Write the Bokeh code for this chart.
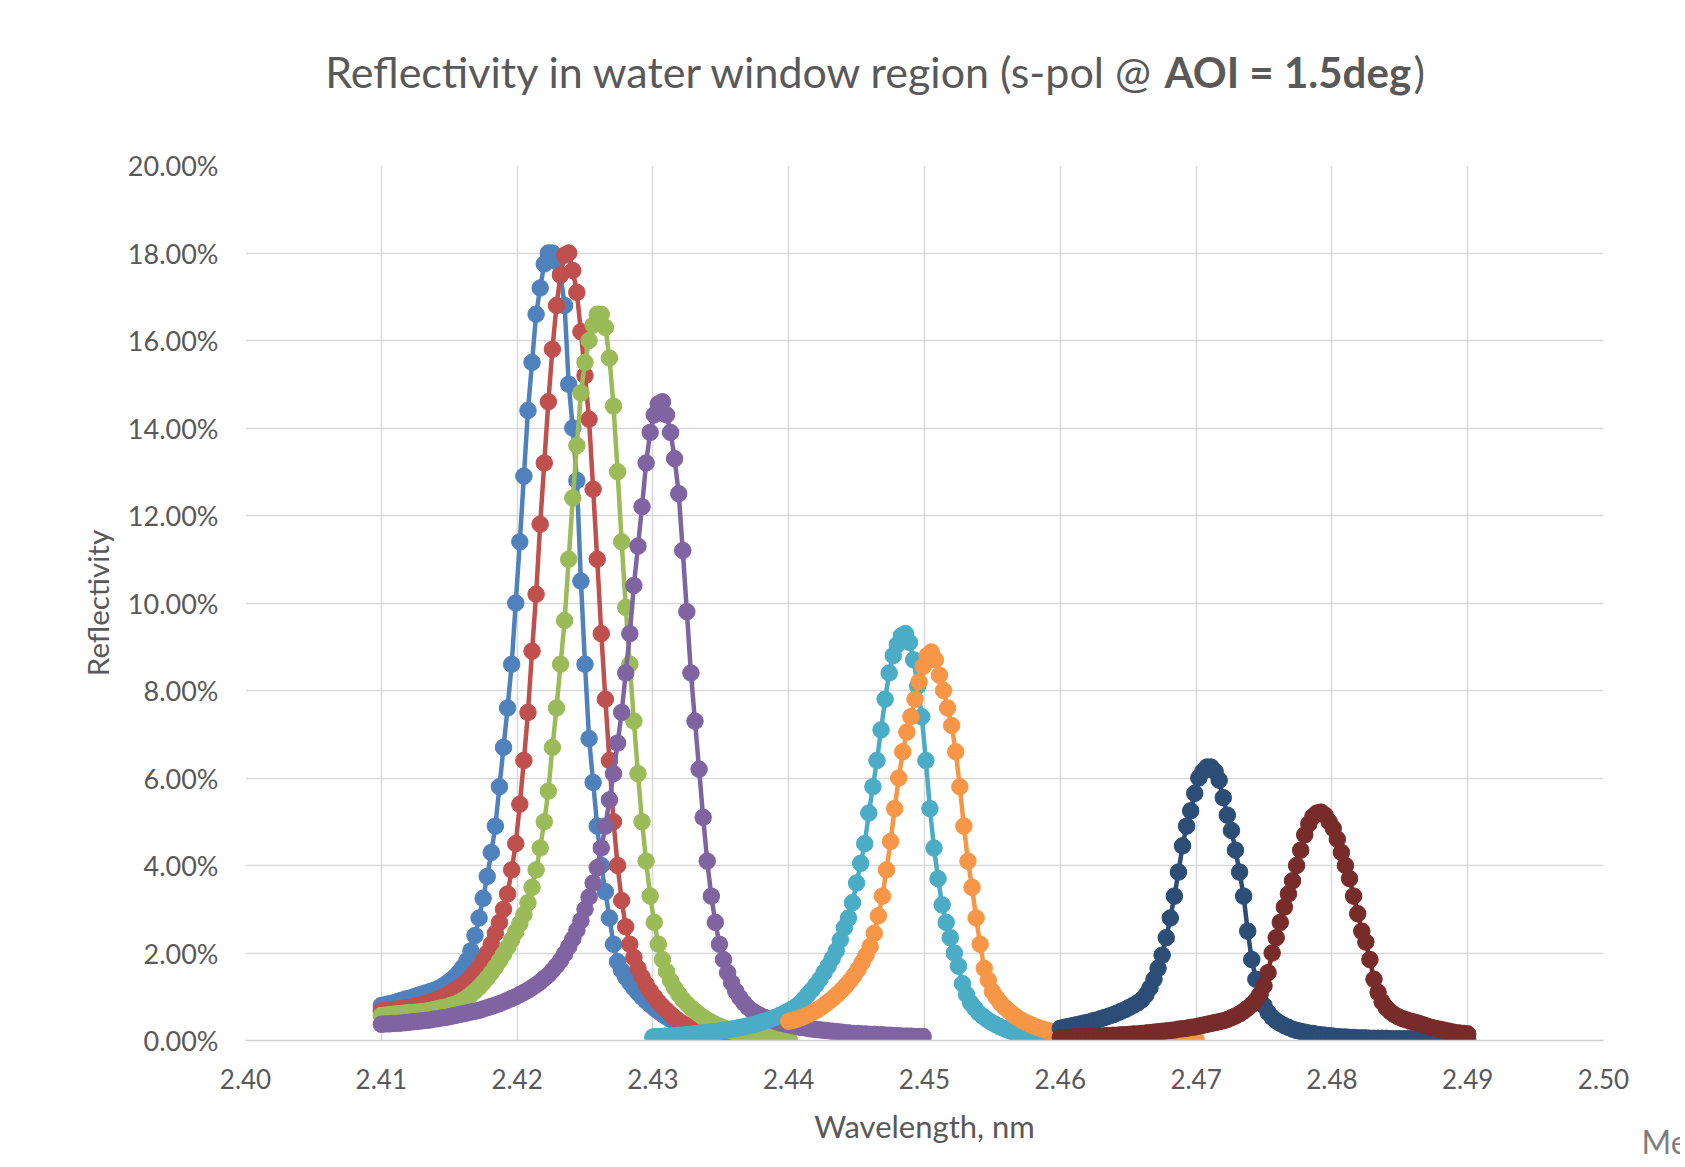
import numpy as np
from bokeh.plotting import figure
from bokeh.layouts import row, column
from bokeh.models import Range1d, FixedTicker, NumeralTickFormatter, Label
from bokeh.embed import file_html
from bokeh.resources import INLINE

# ---------------- data (reflectivity in %, sampled every 0.0003 nm) ----------------
STEP = 0.0003

blue_start = 2.41
blue = [0.80, 0.82, 0.84, 0.86, 0.89, 0.92, 0.95, 0.97, 1.00, 1.03,
        1.06, 1.09, 1.12, 1.15, 1.19, 1.24, 1.30, 1.37, 1.45, 1.55,
        1.67, 1.82, 2.05, 2.40, 2.80, 3.25, 3.75, 4.30, 4.90, 5.80,
        6.70, 7.60, 8.60, 10.0, 11.4, 12.9, 14.4, 15.5, 16.6, 17.2,
        17.75, 18.0, 18.0, 17.8, 17.5, 16.8, 15.0, 14.0, 12.8, 10.5,
        8.6, 6.9, 5.9, 4.9, 4.0, 3.4, 2.8, 2.2, 1.8, 1.60,
        1.45, 1.32, 1.20, 1.09, 0.99, 0.90, 0.82, 0.74, 0.67, 0.60,
        0.54, 0.48, 0.43, 0.38, 0.34, 0.30, 0.27, 0.24, 0.21, 0.19,
        0.17, 0.15, 0.14, 0.12, 0.11, 0.10, 0.10, 0.09, 0.09, 0.08,
        0.07, 0.07, 0.06, 0.06, 0.05, 0.05, 0.05, 0.04, 0.04, 0.04,
        0.03]

red_start = 2.41
red = [0.68, 0.69, 0.70, 0.71, 0.72, 0.73, 0.75, 0.76, 0.78, 0.80,
       0.82, 0.85, 0.88, 0.91, 0.95, 0.99, 1.04, 1.09, 1.15, 1.21,
       1.28, 1.36, 1.45, 1.56, 1.68, 1.82, 2.00, 2.20, 2.45, 2.70,
       3.00, 3.35, 3.90, 4.50, 5.40, 6.40, 7.50, 8.90, 10.2, 11.8,
       13.2, 14.6, 15.8, 16.8, 17.5, 17.95, 18.0, 17.6, 17.1, 16.2,
       15.2, 14.2, 12.6, 11.0, 9.3, 7.8, 6.4, 5.0, 4.0, 3.2,
       2.6, 2.2, 1.9, 1.65, 1.45, 1.28, 1.13, 1.00, 0.88, 0.78,
       0.69, 0.60, 0.52, 0.45, 0.39, 0.34, 0.30, 0.26, 0.23, 0.20,
       0.18, 0.16, 0.14, 0.12, 0.11, 0.10, 0.09, 0.08, 0.08, 0.07,
       0.07, 0.06, 0.06, 0.05, 0.05, 0.05, 0.04, 0.04, 0.04, 0.03,
       0.03]

green_start = 2.41
green = [0.57, 0.58, 0.59, 0.60, 0.61, 0.62, 0.63, 0.64, 0.64, 0.65,
         0.66, 0.67, 0.69, 0.71, 0.73, 0.75, 0.77, 0.80, 0.83, 0.87,
         0.92, 0.98, 1.05, 1.13, 1.22, 1.32, 1.43, 1.55, 1.68, 1.82,
         1.97, 2.13, 2.30, 2.48, 2.67, 2.88, 3.15, 3.50, 3.90, 4.40,
         5.00, 5.70, 6.70, 7.60, 8.60, 9.60, 11.0, 12.4, 13.6, 14.8,
         15.5, 16.0, 16.35, 16.6, 16.6, 16.3, 15.6, 14.5, 13.0, 11.4,
         9.9, 8.6, 7.3, 6.1, 5.0, 4.1, 3.3, 2.7, 2.2, 1.85,
         1.58, 1.37, 1.20, 1.06, 0.94, 0.84, 0.75, 0.67, 0.60, 0.53,
         0.47, 0.42, 0.37, 0.33, 0.29, 0.25, 0.22, 0.19, 0.17, 0.15,
         0.13, 0.12, 0.10, 0.09, 0.08, 0.07, 0.07, 0.06, 0.06, 0.05,
         0.05]

purple_start = 2.41
purple = [0.37, 0.38, 0.38, 0.39, 0.39, 0.40, 0.41, 0.42, 0.43, 0.44,
          0.45, 0.46, 0.47, 0.49, 0.50, 0.52, 0.53, 0.55, 0.57, 0.59,
          0.61, 0.63, 0.65, 0.67, 0.69, 0.72, 0.75, 0.78, 0.81, 0.84,
          0.88, 0.92, 0.96, 1.00, 1.05, 1.10, 1.15, 1.21, 1.27, 1.34,
          1.42, 1.50, 1.60, 1.71, 1.83, 1.98, 2.14, 2.32, 2.52, 2.74,
          3.00, 3.28, 3.60, 3.95, 4.40, 4.90, 5.50, 6.10, 6.80, 7.50,
          8.40, 9.30, 10.4, 11.3, 12.2, 13.2, 13.9, 14.3, 14.55, 14.6,
          14.3, 13.9, 13.3, 12.5, 11.2, 9.8, 8.4, 7.3, 6.2, 5.1,
          4.1, 3.3, 2.7, 2.2, 1.85, 1.55, 1.32, 1.13, 0.98, 0.86,
          0.76, 0.68, 0.62, 0.57, 0.53, 0.49, 0.46, 0.43, 0.40, 0.38,
          0.36, 0.34, 0.32, 0.30, 0.29, 0.27, 0.26, 0.25, 0.24, 0.23,
          0.22, 0.21, 0.20, 0.19, 0.18, 0.17, 0.16, 0.16, 0.15, 0.15,
          0.14, 0.14, 0.13, 0.13, 0.12, 0.12, 0.11, 0.11, 0.10, 0.10,
          0.10, 0.09, 0.09, 0.09]

cyan_start = 2.43
cyan = [0.08, 0.09, 0.09, 0.10, 0.10, 0.11, 0.12, 0.12, 0.13, 0.14,
        0.15, 0.16, 0.17, 0.18, 0.19, 0.20, 0.21, 0.23, 0.24, 0.26,
        0.27, 0.29, 0.31, 0.33, 0.35, 0.37, 0.40, 0.43, 0.46, 0.49,
        0.53, 0.57, 0.61, 0.66, 0.71, 0.77, 0.84, 0.94, 1.05, 1.15,
        1.27, 1.40, 1.55, 1.70, 1.87, 2.05, 2.30, 2.58, 2.80, 3.15,
        3.60, 4.05, 4.50, 5.20, 5.80, 6.40, 7.10, 7.80, 8.40, 8.80,
        9.05, 9.25, 9.30, 9.10, 8.70, 8.10, 7.40, 6.40, 5.30, 4.40,
        3.70, 3.10, 2.70, 2.35, 2.00, 1.70, 1.30, 1.05, 0.86, 0.74,
        0.63, 0.55, 0.48, 0.42, 0.37, 0.32, 0.28, 0.24, 0.21, 0.18,
        0.16, 0.14, 0.12, 0.11, 0.10, 0.09, 0.08, 0.07, 0.07, 0.06,
        0.06]

orange_start = 2.44
orange = [0.44, 0.46, 0.49, 0.52, 0.56, 0.60, 0.65, 0.70, 0.76, 0.83,
          0.90, 0.98, 1.06, 1.15, 1.25, 1.36, 1.48, 1.62, 1.78, 1.95,
          2.15, 2.45, 2.85, 3.30, 3.90, 4.55, 5.30, 6.00, 6.60, 7.05,
          7.40, 7.80, 8.20, 8.55, 8.80, 8.88, 8.70, 8.35, 8.00, 7.60,
          7.20, 6.60, 5.80, 4.90, 4.10, 3.50, 2.80, 2.20, 1.65, 1.38,
          1.12, 0.98, 0.86, 0.76, 0.68, 0.60, 0.53, 0.47, 0.42, 0.38,
          0.34, 0.30, 0.27, 0.24, 0.22, 0.20, 0.18, 0.16, 0.15, 0.13,
          0.12, 0.11, 0.10, 0.09, 0.08, 0.08, 0.07, 0.07, 0.06, 0.06,
          0.05, 0.05, 0.05, 0.04, 0.04, 0.04, 0.04, 0.04, 0.03, 0.03,
          0.03, 0.03, 0.03, 0.03, 0.03, 0.02, 0.02, 0.02, 0.02, 0.02,
          0.02]

navy_start = 2.46
navy = [0.28, 0.30, 0.32, 0.34, 0.36, 0.38, 0.40, 0.42, 0.45, 0.47,
        0.50, 0.53, 0.56, 0.59, 0.63, 0.67, 0.71, 0.76, 0.81, 0.86,
        0.93, 1.04, 1.20, 1.40, 1.65, 1.95, 2.35, 2.80, 3.30, 3.85,
        4.45, 4.90, 5.25, 5.65, 6.00, 6.15, 6.25, 6.25, 6.15, 5.95,
        5.55, 5.15, 4.80, 4.35, 3.85, 3.30, 2.50, 1.85, 1.40, 1.05,
        0.80, 0.64, 0.53, 0.45, 0.39, 0.34, 0.30, 0.26, 0.23, 0.21,
        0.19, 0.17, 0.16, 0.14, 0.13, 0.12, 0.11, 0.10, 0.09, 0.08,
        0.08, 0.07, 0.07, 0.06, 0.06, 0.06, 0.05, 0.05, 0.05, 0.05,
        0.05, 0.04, 0.04, 0.04, 0.04, 0.04, 0.04, 0.04, 0.04, 0.04,
        0.03, 0.03, 0.03, 0.03, 0.03, 0.03, 0.03, 0.03, 0.03, 0.03,
        0.03]

maroon_start = 2.46
maroon = [0.07, 0.07, 0.07, 0.08, 0.08, 0.08, 0.09, 0.09, 0.09, 0.10,
          0.10, 0.11, 0.11, 0.12, 0.12, 0.13, 0.13, 0.14, 0.15, 0.15,
          0.16, 0.17, 0.18, 0.19, 0.20, 0.21, 0.22, 0.23, 0.24, 0.26,
          0.27, 0.28, 0.30, 0.31, 0.33, 0.35, 0.37, 0.39, 0.41, 0.43,
          0.45, 0.48, 0.52, 0.56, 0.61, 0.67, 0.74, 0.82, 0.92, 1.05,
          1.25, 1.55, 2.00, 2.35, 2.70, 3.05, 3.35, 3.65, 4.00, 4.35,
          4.70, 4.95, 5.12, 5.20, 5.22, 5.15, 5.00, 4.85, 4.60, 4.30,
          4.00, 3.70, 3.30, 2.90, 2.50, 2.25, 1.85, 1.40, 1.10, 0.88,
          0.75, 0.66, 0.59, 0.54, 0.50, 0.47, 0.44, 0.42, 0.39, 0.36,
          0.33, 0.30, 0.28, 0.26, 0.24, 0.22, 0.20, 0.18, 0.17, 0.16,
          0.15]

SERIES = [
    (blue_start, blue, "#4F81BD"),
    (red_start, red, "#C0504D"),
    (green_start, green, "#9BBB59"),
    (purple_start, purple, "#8064A2"),
    (cyan_start, cyan, "#4BACC6"),
    (orange_start, orange, "#F79646"),
    (navy_start, navy, "#2C4D75"),
    (maroon_start, maroon, "#772C2A"),
]

X_TICKS = [2.40, 2.41, 2.42, 2.43, 2.44, 2.45, 2.46, 2.47, 2.48, 2.49, 2.50]
Y_TICKS = [0.0, 0.02, 0.04, 0.06, 0.08, 0.10, 0.12, 0.14, 0.16, 0.18, 0.20]

TITLE_MAIN = "Reflectivity in water window region (s-pol @"
TITLE_BOLD = "AOI = 1.5deg"
TITLE_END = ")"
CORNER_TEXT = "Me"

# ---------------- geometry ----------------
MAIN_W = 1630
SIDE_W = 50
TITLE_H = 135
MAIN_H = 1025
TOTAL_H = TITLE_H + MAIN_H
LEFT_B, RIGHT_B = 245, 27
BASE_SHIFT = 14   # baseline correction for Label text

GRID = "#d9d9d9"
TXT = "#595959"
FONT = "Lato"


def blank(width, height, xr, yr, left=0, right=0):
    f = figure(width=width, height=height, output_backend="svg",
               toolbar_location=None, x_range=xr, y_range=yr,
               x_axis_location=None, y_axis_location=None,
               min_border_left=left, min_border_right=right,
               min_border_top=0, min_border_bottom=0)
    f.grid.visible = False
    f.outline_line_color = None
    f.background_fill_color = "white"
    f.border_fill_color = "white"
    return f


def nm(px):
    # horizontal canvas pixel -> wavelength in the shared x scale
    return 2.40 + (px - LEFT_B) * 0.10 / (MAIN_W - LEFT_B - RIGHT_B)


# ---------------- title strip ----------------
tf = blank(MAIN_W, TITLE_H, Range1d(2.40, 2.50), Range1d(0, TITLE_H),
           LEFT_B, RIGHT_B)
ty = TITLE_H - 85 + BASE_SHIFT
tf.add_layout(Label(x=nm(1155), y=ty, text=TITLE_MAIN, text_align="right",
                    text_baseline="alphabetic", text_font=FONT,
                    text_font_size="43px", text_color=TXT))
tf.add_layout(Label(x=nm(1164), y=ty, text=TITLE_BOLD, text_align="left",
                    text_baseline="alphabetic", text_font=FONT,
                    text_font_size="42px", text_font_style="bold",
                    text_color=TXT))
tf.add_layout(Label(x=nm(1413), y=ty, text=TITLE_END, text_align="left",
                    text_baseline="alphabetic", text_font=FONT,
                    text_font_size="43px", text_color=TXT))

# ---------------- main chart ----------------
p = figure(width=MAIN_W, height=MAIN_H, output_backend="svg",
           toolbar_location=None,
           x_range=Range1d(2.40, 2.50), y_range=Range1d(0.0, 0.20),
           min_border_left=LEFT_B, min_border_right=RIGHT_B,
           min_border_top=165 - TITLE_H, min_border_bottom=120)
p.outline_line_color = None
p.background_fill_color = "white"
p.border_fill_color = "white"

p.xgrid.ticker = FixedTicker(ticks=X_TICKS)
p.ygrid.ticker = FixedTicker(ticks=Y_TICKS)
for g in (p.xgrid, p.ygrid):
    g.grid_line_color = GRID
    g.grid_line_width = 1.5

for ax in (p.xaxis, p.yaxis):
    ax.major_tick_line_color = None
    ax.minor_tick_line_color = None
    ax.major_tick_in = 0
    ax.major_tick_out = 0
    ax.minor_tick_in = 0
    ax.minor_tick_out = 0
    ax.major_label_text_font = FONT
    ax.major_label_text_color = TXT
    ax.axis_label_text_font = FONT
    ax.axis_label_text_font_style = "normal"
    ax.axis_label_text_color = TXT

p.xaxis.ticker = FixedTicker(ticks=X_TICKS)
p.xaxis.formatter = NumeralTickFormatter(format="0.00")
p.xaxis.axis_line_color = "#cfcfcf"
p.xaxis.axis_line_width = 1.5
p.xaxis.major_label_text_font_size = "26px"
p.xaxis.major_label_standoff = 28
p.xaxis.axis_label = "Wavelength, nm"
p.xaxis.axis_label_text_font_size = "31px"
p.xaxis.axis_label_standoff = 15

p.yaxis.ticker = FixedTicker(ticks=Y_TICKS)
p.yaxis.formatter = NumeralTickFormatter(format="0.00%")
p.yaxis.axis_line_color = None
p.yaxis.major_label_text_font_size = "27px"
p.yaxis.major_label_standoff = 27
p.yaxis.axis_label = "Reflectivity"
p.yaxis.axis_label_text_font_size = "29.5px"
p.yaxis.axis_label_standoff = 10

for start, vals, col in SERIES:
    xs = np.round(start + STEP * np.arange(len(vals)), 5)
    ys = np.array(vals) / 100.0
    p.line(xs, ys, line_color=col, line_width=4.5)
    p.scatter(xs, ys, size=16.5, fill_color=col, line_color=col, line_width=1)

# ---------------- right strip with the cut-off corner text ----------------
sf = blank(SIDE_W, TOTAL_H, Range1d(0, SIDE_W), Range1d(0, TOTAL_H))
sf.add_layout(Label(x=11, y=TOTAL_H - 1155 + BASE_SHIFT, text=CORNER_TEXT,
                    text_align="left", text_baseline="alphabetic",
                    text_font=FONT, text_font_size="32px",
                    text_color="#7f7f7f"))

layout = row(column(tf, p, spacing=0), sf, spacing=0)
open("out.html", "w").write(file_html(layout, INLINE))
